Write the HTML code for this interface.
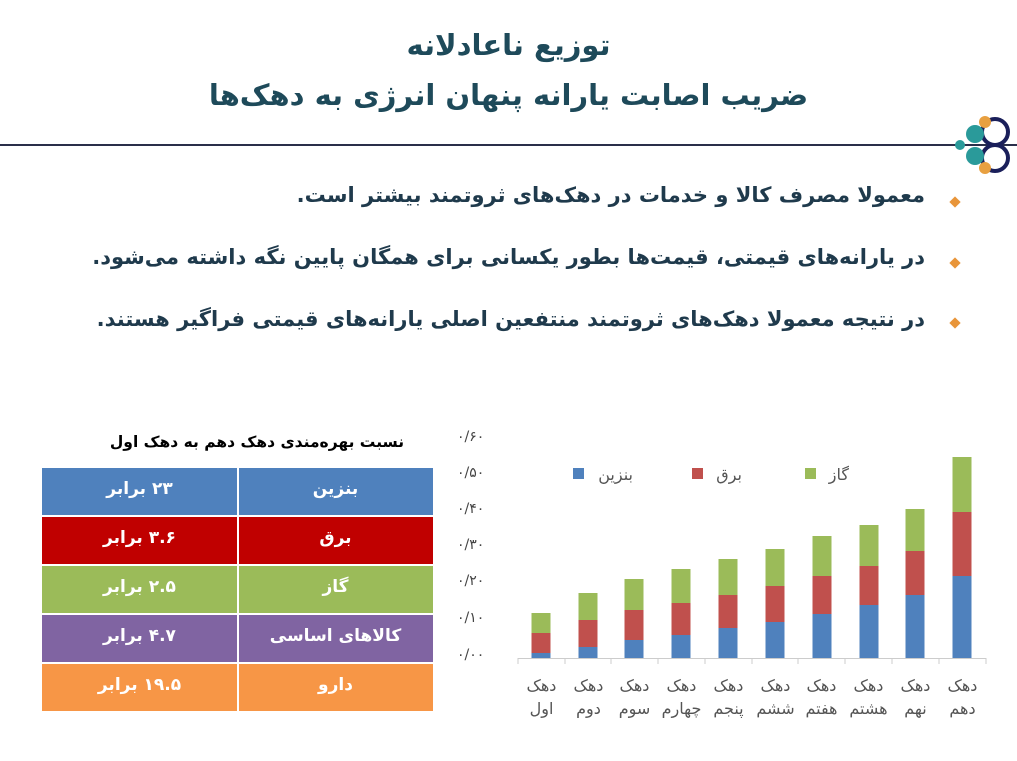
<!DOCTYPE html>
<html><head><meta charset="utf-8"><style>
body{margin:0;width:1017px;height:761px;background:#fff;position:relative;overflow:hidden;font-family:"DejaVu Sans","Liberation Sans",sans-serif}
.a{position:absolute;white-space:nowrap}
.t{color:#1e4a5a;font-weight:bold;font-size:29px;width:1017px;text-align:center;left:0;direction:rtl}
.b{right:92px;direction:rtl;font-weight:bold;font-size:21px;color:#1f3a4c}
.d{position:absolute;width:8px;height:8px;background:#e8953a;transform:rotate(45deg)}
.r{position:absolute;left:42px;width:391px;height:47px;color:#fff;font-weight:bold;font-size:17px;direction:rtl}
.r span{position:absolute;top:11px;width:195px;text-align:center}
.yl{position:absolute;left:457px;font-size:14px;color:#444;font-family:"DejaVu Sans",sans-serif;letter-spacing:3px}
.xl{position:absolute;top:674px;width:47px;text-align:center;font-size:16px;color:#555;line-height:23px;direction:rtl}
</style></head><body>
<div class="a t" style="top:28px">توزیع ناعادلانه</div>
<div class="a t" style="top:78px">ضریب اصابت یارانه پنهان انرژی به دهک‌ها</div>
<div class="a" style="left:0;top:144px;width:960px;height:2px;background:#2a2f4a"></div>
<svg class="a" style="left:945px;top:112px" width="72" height="66"><line x1="0" y1="33" x2="72" y2="33" stroke="#2a2f4a" stroke-width="2"/><circle cx="50" cy="20" r="13" fill="none" stroke="#1a1f5a" stroke-width="4"/><circle cx="50" cy="46" r="13" fill="none" stroke="#1a1f5a" stroke-width="4"/><circle cx="30" cy="22" r="9" fill="#2a9a9a"/><circle cx="30" cy="44" r="9" fill="#2a9a9a"/><circle cx="40" cy="10" r="6" fill="#e8a040"/><circle cx="40" cy="56" r="6" fill="#e8a040"/><circle cx="15" cy="33" r="5" fill="#2a9a9a"/></svg>
<div class="d" style="left:951px;top:198px"></div>
<div class="d" style="left:951px;top:259px"></div>
<div class="d" style="left:951px;top:319px"></div>
<div class="a b" style="top:183px">معمولا مصرف کالا و خدمات در دهک‌های ثروتمند بیشتر است.</div>
<div class="a b" style="top:245px">در یارانه‌های قیمتی، قیمت‌ها بطور یکسانی برای همگان پایین نگه داشته می‌شود.</div>
<div class="a b" style="top:307px">در نتیجه معمولا دهک‌های ثروتمند منتفعین اصلی یارانه‌های قیمتی فراگیر هستند.</div>
<div class="a" style="left:42px;width:430px;text-align:center;top:433px;font-size:15.5px;font-weight:bold;direction:rtl">نسبت بهره‌مندی دهک دهم به دهک اول</div>
<div class="r" style="top:468px;background:#4f81bd"><span style="right:0">بنزین</span><span style="left:0">۲۳ برابر</span></div>
<div class="r" style="top:517px;background:#c00000"><span style="right:0">برق</span><span style="left:0">۳.۶ برابر</span></div>
<div class="r" style="top:566px;background:#9bbb59"><span style="right:0">گاز</span><span style="left:0">۲.۵ برابر</span></div>
<div class="r" style="top:615px;background:#8064a2"><span style="right:0">کالاهای اساسی</span><span style="left:0">۴.۷ برابر</span></div>
<div class="r" style="top:664px;background:#f79646"><span style="right:0">دارو</span><span style="left:0">۱۹.۵ برابر</span></div>
<div class="a" style="left:237px;top:468px;width:2px;height:243px;background:#fff"></div>
<div class="a" style="left:42px;top:515px;width:391px;height:2px;background:#fff"></div>
<div class="a" style="left:42px;top:564px;width:391px;height:2px;background:#fff"></div>
<div class="a" style="left:42px;top:613px;width:391px;height:2px;background:#fff"></div>
<div class="a" style="left:42px;top:662px;width:391px;height:2px;background:#fff"></div>
<div class="yl" style="top:429px">۰/۶۰</div>
<div class="yl" style="top:465px">۰/۵۰</div>
<div class="yl" style="top:501px">۰/۴۰</div>
<div class="yl" style="top:537px">۰/۳۰</div>
<div class="yl" style="top:573px">۰/۲۰</div>
<div class="yl" style="top:610px">۰/۱۰</div>
<div class="yl" style="top:647px">۰/۰۰</div>
<svg class="a" style="left:0;top:0" width="1017" height="761">
<line x1="518" y1="658.5" x2="986" y2="658.5" stroke="#ccc"/>
<g stroke="#ccc"><line x1="518" y1="658" x2="518" y2="664"/><line x1="565" y1="658" x2="565" y2="664"/><line x1="611" y1="658" x2="611" y2="664"/><line x1="658" y1="658" x2="658" y2="664"/><line x1="705" y1="658" x2="705" y2="664"/><line x1="752" y1="658" x2="752" y2="664"/><line x1="798" y1="658" x2="798" y2="664"/><line x1="845" y1="658" x2="845" y2="664"/><line x1="892" y1="658" x2="892" y2="664"/><line x1="939" y1="658" x2="939" y2="664"/><line x1="986" y1="658" x2="986" y2="664"/></g>
<g id="bars"></g>
<rect x="573" y="468" width="11" height="11" fill="#4f81bd"/><rect x="692" y="468" width="11" height="11" fill="#c0504d"/><rect x="805" y="468" width="11" height="11" fill="#9bbb59"/>
<text x="633" y="480" text-anchor="end" font-size="16" fill="#555" font-family="DejaVu Sans,sans-serif">بنزین</text>
<text x="742" y="480" text-anchor="end" font-size="16" fill="#555" font-family="DejaVu Sans,sans-serif">برق</text>
<text x="849" y="480" text-anchor="end" font-size="16" fill="#555" font-family="DejaVu Sans,sans-serif">گاز</text>
</svg>
<div class="xl" style="left:518px">دهک<br>اول</div>
<div class="xl" style="left:565px">دهک<br>دوم</div>
<div class="xl" style="left:611px">دهک<br>سوم</div>
<div class="xl" style="left:658px">دهک<br>چهارم</div>
<div class="xl" style="left:705px">دهک<br>پنجم</div>
<div class="xl" style="left:752px">دهک<br>ششم</div>
<div class="xl" style="left:798px">دهک<br>هفتم</div>
<div class="xl" style="left:845px">دهک<br>هشتم</div>
<div class="xl" style="left:892px">دهک<br>نهم</div>
<div class="xl" style="left:939px">دهک<br>دهم</div>
<script>
var xs=[541,588,634,681,728,775,822,869,915,962],
b=[653,647,640,635,628,622,614,605,595,576],
r=[633,620,610,603,595,586,576,566,551,512],
g=[613,593,579,569,559,549,536,525,509,457],s='';
for(var i=0;i<10;i++){var x=xs[i]-9.5;
s+='<rect x="'+x+'" y="'+b[i]+'" width="19" height="'+(658-b[i])+'" fill="#4f81bd"/>';
s+='<rect x="'+x+'" y="'+r[i]+'" width="19" height="'+(b[i]-r[i])+'" fill="#c0504d"/>';
s+='<rect x="'+x+'" y="'+g[i]+'" width="19" height="'+(r[i]-g[i])+'" fill="#9bbb59"/>';}
document.getElementById('bars').innerHTML=s;
</script>
</body></html>
